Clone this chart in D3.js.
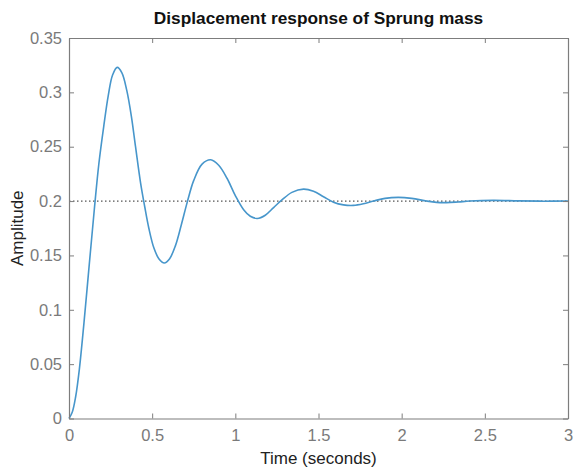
<!DOCTYPE html>
<html><head><meta charset="utf-8">
<script src="https://cdn.jsdelivr.net/npm/d3@7"></script>
<style>
html,body{margin:0;padding:0;background:#fff;}
svg{display:block;font-family:"Liberation Sans",Arial,Helvetica,sans-serif;}
</style></head>
<body>
<svg id="chart" width="575" height="468"></svg>
<script>
const title = "Displacement response of Sprung mass";
const xLabel = "Time (seconds)";
const yLabel = "Amplitude";
const xTicks = [0, 0.5, 1, 1.5, 2, 2.5, 3];
const yTicks = [0, 0.05, 0.1, 0.15, 0.2, 0.25, 0.3, 0.35];
const steadyValue = 0.2;
const timeValues = [0,0.02,0.04,0.062,0.09,0.122,0.152,0.18,0.21,0.236,0.262,0.29,0.318,0.347,0.375,0.40,0.43,0.455,0.48,0.51,0.54,0.573,0.605,0.64,0.675,0.711,0.75,0.80,0.852,0.90,0.95,1.0,1.05,1.09,1.132,1.18,1.23,1.28,1.34,1.41,1.47,1.53,1.59,1.65,1.71,1.77,1.83,1.9,1.98,2.06,2.15,2.21,2.27,2.34,2.41,2.55,2.7,2.85,3.0];
const amplitudeValues = [0,0.006,0.02,0.045,0.088,0.142,0.192,0.235,0.27,0.297,0.316,0.323,0.318,0.302,0.278,0.25,0.217,0.195,0.175,0.157,0.147,0.143,0.147,0.159,0.178,0.199,0.219,0.234,0.238,0.233,0.221,0.205,0.192,0.186,0.184,0.187,0.194,0.201,0.208,0.211,0.209,0.204,0.199,0.1965,0.196,0.1975,0.2,0.2025,0.2034,0.2025,0.2,0.1988,0.1986,0.1992,0.2,0.2006,0.2002,0.1999,0.2];

const svg = d3.select("#chart");
const m = {left:69, right:568, top:38, bottom:418.5};
const x = d3.scaleLinear().domain([0,3]).range([m.left, m.right]);
const y = d3.scaleLinear().domain([0,0.35]).range([m.bottom, m.top]);
const axisColor = "#7d7d7d";
const tickTextColor = "#7a7a7a";
const fs = 16.5;

// steady-state dotted line
svg.append("line")
  .attr("x1", x(0)).attr("x2", x(3))
  .attr("y1", y(steadyValue)).attr("y2", y(steadyValue))
  .attr("stroke", "#555").attr("stroke-width", 1.2)
  .attr("stroke-dasharray", "1.5,2.5");

// response curve
const data = timeValues.map((t,i)=>[t, amplitudeValues[i]]);
const line = d3.line().x(d=>x(d[0])).y(d=>y(d[1])).curve(d3.curveCatmullRom.alpha(0.5));
svg.append("path").datum(data)
  .attr("d", line).attr("fill","none")
  .attr("stroke","#4796cb").attr("stroke-width",1.6);

// axes with inward ticks
function styleAxis(g){
  g.select(".domain").attr("stroke", axisColor).attr("stroke-width",1.2);
  g.selectAll(".tick line").attr("stroke", axisColor);
  g.selectAll(".tick text").attr("fill", tickTextColor).attr("font-size", fs);
}
const fmt = d => d3.format("")(+d.toFixed(2));
svg.append("g").attr("transform",`translate(0,${m.bottom})`)
  .call(d3.axisBottom(x).tickValues(xTicks).tickFormat(fmt).tickSizeInner(-5).tickSizeOuter(0).tickPadding(11))
  .call(styleAxis);
svg.append("g").attr("transform",`translate(0,${m.top})`)
  .call(d3.axisTop(x).tickValues(xTicks).tickFormat("").tickSizeInner(-5).tickSizeOuter(0))
  .call(styleAxis);
svg.append("g").attr("transform",`translate(${m.left},0)`)
  .call(d3.axisLeft(y).tickValues(yTicks).tickFormat(fmt).tickSizeInner(-5).tickSizeOuter(0).tickPadding(7))
  .call(styleAxis);
svg.append("g").attr("transform",`translate(${m.right},0)`)
  .call(d3.axisRight(y).tickValues(yTicks).tickFormat("").tickSizeInner(-5).tickSizeOuter(0))
  .call(styleAxis);

// labels
svg.append("text").attr("x",(m.left+m.right)/2).attr("y",24)
  .attr("text-anchor","middle").attr("font-size",17.3).attr("font-weight","bold").attr("fill","#111")
  .text(title);
svg.append("text").attr("x",(m.left+m.right)/2).attr("y",464)
  .attr("text-anchor","middle").attr("font-size",17).attr("fill","#222")
  .text(xLabel);
svg.append("text").attr("transform",`translate(23,${(m.top+m.bottom)/2}) rotate(-90)`)
  .attr("text-anchor","middle").attr("font-size",17).attr("fill","#222")
  .text(yLabel);
</script>
</body></html>
